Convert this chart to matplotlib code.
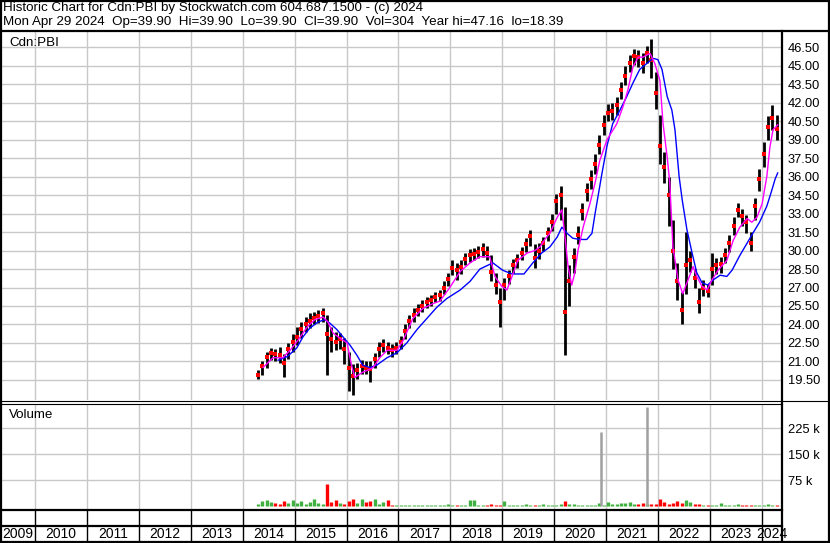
import matplotlib
matplotlib.use('Agg')
import matplotlib.pyplot as plt
from matplotlib.lines import Line2D
from matplotlib.patches import Rectangle

plt.rcParams['font.family'] = ['Liberation Sans', 'DejaVu Sans']

# ---------------- data ----------------
start_year, start_month = 2014, 4

close = [19.9, 20.6, 21.4, 21.7, 21.6, 21.5, 20.9, 22.0, 22.6,
         23.0, 23.6, 24.0, 24.3, 24.5, 24.7, 24.9, 23.2, 22.8, 22.6, 22.8, 22.0,
         20.5, 19.8, 20.3, 20.6, 20.5, 20.4, 21.2, 22.0, 22.3, 22.1, 21.9, 22.1,
         22.6, 23.5, 24.3, 24.8, 25.2, 25.5, 25.8, 26.0, 26.2, 26.4, 27.0, 27.7,
         28.6, 28.4, 28.7, 29.3, 29.6, 29.7, 29.9, 30.1, 29.8, 28.3, 27.2, 25.8,
         27.2, 27.9, 28.8, 29.2, 29.8, 30.5, 31.2, 29.4, 30.0, 30.6, 31.4, 32.3,
         34.0, 34.5, 25.0, 27.5, 29.5, 31.3, 33.2, 34.8, 35.8, 37.0, 38.6, 40.2,
         41.2, 41.3, 41.8, 43.0, 44.2, 45.2, 45.8, 45.7, 45.2, 46.0, 45.5, 42.8,
         38.5, 36.8, 34.5, 30.0, 27.5, 25.2, 28.8, 29.2, 27.8, 25.8, 27.0, 26.7,
         28.5, 28.8, 28.9, 29.6, 30.6, 32.0, 33.3, 32.8, 32.3, 30.6, 33.6, 35.8,
         37.8, 40.0, 40.8, 39.9]
high = [20.3, 21.0, 21.8, 22.1, 22.0, 22.2, 21.6, 22.5, 23.2,
        23.8, 24.2, 24.6, 24.9, 25.0, 25.2, 25.3, 24.8, 23.8, 23.4, 23.3, 22.9,
        21.8, 20.8, 20.9, 21.1, 21.0, 21.0, 21.7, 22.6, 22.8, 22.6, 22.4, 22.6,
        23.1, 24.0, 24.8, 25.3, 25.7, 26.0, 26.2, 26.4, 26.6, 26.8, 27.5, 28.2,
        29.2, 29.0, 29.2, 29.8, 30.1, 30.2, 30.4, 30.6, 30.4, 29.6, 28.2, 27.0,
        27.8, 28.4, 29.3, 29.7, 30.3, 31.0, 31.7, 30.5, 30.6, 31.1, 31.9, 33.0,
        34.6, 35.2, 33.5, 28.8, 30.2, 32.0, 33.9, 35.5, 36.5, 37.8, 39.4, 41.0,
        41.9, 42.0, 42.5, 43.7, 45.0, 45.9, 46.4, 46.3, 46.0, 46.6, 47.2, 44.5,
        41.0, 38.0, 36.0, 32.5, 29.0, 26.6, 31.5, 30.0, 28.5, 27.0, 27.6, 27.3,
        29.8, 29.4, 29.5, 30.2, 31.3, 32.7, 33.9, 33.4, 32.9, 31.5, 34.3, 36.6,
        38.8, 40.9, 41.8, 41.0]
low = [19.6, 19.9, 20.5, 21.1, 21.0, 20.9, 19.7, 21.2, 21.8,
       22.3, 22.9, 23.4, 23.7, 24.0, 24.1, 24.2, 19.9, 21.8, 21.9, 22.0, 20.8,
       18.6, 18.3, 19.6, 20.0, 20.0, 19.3, 20.5, 21.4, 21.8, 21.6, 21.4, 21.6,
       22.0, 22.8, 23.7, 24.2, 24.7, 25.0, 25.3, 25.5, 25.8, 25.9, 26.5, 27.1,
       28.0, 27.6, 28.1, 28.8, 29.1, 29.2, 29.4, 29.5, 29.2, 27.5, 26.5, 23.8,
       26.0, 27.3, 28.2, 28.6, 29.2, 29.9, 30.4, 28.6, 29.3, 30.0, 30.8, 31.6,
       33.0, 32.5, 21.5, 25.5, 28.2, 30.5, 32.5, 34.0, 35.0, 36.2, 37.8, 39.4,
       40.5, 40.6, 41.0, 42.3, 43.4, 44.5, 45.1, 44.9, 44.4, 45.2, 44.0, 41.5,
       37.0, 35.5, 32.0, 28.5, 26.0, 24.0, 26.5, 28.3, 27.0, 24.9, 26.3, 26.2,
       27.2, 28.1, 28.2, 29.0, 29.9, 31.3, 32.7, 32.0, 31.4, 30.0, 32.5, 34.8,
       36.8, 39.0, 39.8, 39.0]
volume_k = [8, 15, 18, 12, 10, 6, 14, 9, 18,
            10, 15, 8, 12, 20, 9, 7, 64, 12, 18, 10, 8,
            14, 20, 9, 22, 11, 16, 20, 6, 12, 18, 4, 3,
            3, 4, 3, 4, 3, 5, 4, 3, 4, 3, 5, 6,
            3, 4, 5, 3, 17, 17, 4, 3, 3, 6, 4, 3,
            15, 3, 4, 3, 3, 6, 3, 4, 3, 6, 5, 4,
            4, 6, 14, 8, 6, 5, 4, 3, 4, 3, 10, 5,
            12, 7, 8, 10, 9, 11, 6, 7, 10, 8, 6, 7,
            20, 12, 8, 10, 15, 9, 17, 11, 8, 6, 5, 4,
            4, 3, 9, 5, 4, 3, 8, 3, 4, 3, 4, 3,
            4, 8, 4, 3]
spike_dates = [2020.91, 2021.80]
spike_vol_k = [213, 286]

ma50_t = [2014.39, 2014.58, 2014.77, 2014.91, 2015.06, 2015.24, 2015.39, 2015.55, 2015.64, 2015.74,
          2015.87, 2016.01, 2016.10, 2016.16, 2016.30, 2016.41, 2016.51, 2016.64, 2016.78, 2016.97,
          2017.09, 2017.28, 2017.47, 2017.67, 2017.80, 2017.99, 2018.19, 2018.38, 2018.57, 2018.76,
          2018.86, 2018.99, 2019.09, 2019.19, 2019.30, 2019.48, 2019.63, 2019.73, 2019.82, 2019.92,
          2020.06, 2020.15, 2020.21, 2020.27, 2020.34, 2020.40, 2020.46, 2020.56, 2020.69, 2020.79,
          2020.88, 2021.02, 2021.21, 2021.33, 2021.42, 2021.52, 2021.62, 2021.71, 2021.85, 2021.94,
          2022.04, 2022.10, 2022.18, 2022.23, 2022.29, 2022.39, 2022.48, 2022.58, 2022.68, 2022.75,
          2022.85, 2022.95, 2023.04, 2023.16, 2023.33, 2023.45, 2023.58, 2023.72, 2023.81, 2023.91,
          2024.01, 2024.10, 2024.16, 2024.22, 2024.31]
ma50_v = [20.5, 21.3, 21.3, 21.9, 22.7, 23.8, 24.4, 24.6, 24.2, 23.3,
          22.9, 22.5, 20.6, 19.7, 20.1, 20.3, 20.5, 21.3, 21.9, 21.9,
          22.7, 24.5, 25.3, 25.7, 25.9, 27.0, 28.3, 29.0, 29.5, 29.5,
          27.9, 27.1, 26.8, 27.9, 29.2, 29.8, 30.0, 30.3, 30.9, 31.4,
          32.7, 33.3, 31.1, 28.7, 27.2, 28.2, 30.0, 31.9, 33.8, 35.5,
          37.3, 39.0, 40.3, 41.7, 43.0, 44.9, 45.7, 45.7, 46.0, 45.2,
          43.8, 40.3, 37.6, 35.5, 30.3, 27.6, 26.5, 27.6, 28.7, 27.9,
          27.1, 26.8, 27.6, 28.4, 29.2, 30.8, 31.9, 32.6, 32.3, 32.7,
          33.8, 36.0, 38.4, 39.8, 40.2]

ma200_t = [2014.68, 2014.86, 2015.04, 2015.16, 2015.29, 2015.45, 2015.58, 2015.68, 2015.81, 2015.93,
           2016.07, 2016.20, 2016.31, 2016.45, 2016.58, 2016.78, 2016.97, 2017.16, 2017.36, 2017.55,
           2017.74, 2017.93, 2018.19, 2018.38, 2018.57, 2018.82, 2019.01, 2019.19, 2019.42, 2019.59,
           2019.76, 2019.92, 2020.06, 2020.15, 2020.25, 2020.36, 2020.50, 2020.63, 2020.73, 2020.79,
           2020.92, 2021.02, 2021.13, 2021.27, 2021.40, 2021.52, 2021.65, 2021.79, 2021.91, 2022.00,
           2022.08, 2022.18, 2022.27, 2022.33, 2022.37, 2022.41, 2022.47, 2022.56, 2022.66, 2022.75,
           2022.85, 2022.96, 2023.06, 2023.20, 2023.33, 2023.43, 2023.58, 2023.72, 2023.83, 2023.96,
           2024.10, 2024.19, 2024.26, 2024.31]
ma200_v = [21.1, 21.4, 22.1, 23.0, 23.7, 24.2, 24.4, 24.1, 23.6, 23.0,
           22.3, 21.5, 20.7, 20.5, 20.7, 21.3, 21.7, 22.5, 23.6, 24.5,
           25.4, 26.1, 26.8, 27.5, 28.5, 29.0, 28.4, 28.1, 28.1, 29.0,
           29.8, 30.3, 31.1, 31.9, 31.4, 31.0, 30.9, 30.9, 31.4, 33.0,
           36.2, 38.5, 40.3, 41.4, 42.5, 43.6, 44.7, 45.2, 45.6, 45.5,
           44.7, 42.5, 41.4, 39.8, 37.9, 36.0, 34.1, 31.7, 29.8, 28.2,
           27.4, 27.2, 27.6, 28.0, 27.9, 28.4, 29.6, 30.6, 31.4, 32.3,
           33.6, 34.8, 35.8, 36.3]

price_ticks = [19.5, 21.0, 22.5, 24.0, 25.5, 27.0, 28.5, 30.0, 31.5, 33.0,
               34.5, 36.0, 37.5, 39.0, 40.5, 42.0, 43.5, 45.0, 46.5]
price_tick_labels = ['19.50', '21.00', '22.50', '24.00', '25.50', '27.00', '28.50', '30.00',
                     '31.50', '33.00', '34.50', '36.00', '37.50', '39.00', '40.50', '42.00',
                     '43.50', '45.00', '46.50']
vol_ticks = [75, 150, 225]
vol_tick_labels = ['75 k', '150 k', '225 k']
years = list(range(2009, 2025))

header1 = 'Historic Chart for Cdn:PBI by Stockwatch.com 604.687.1500 - (c) 2024'
header2 = 'Mon Apr 29 2024  Op=39.90  Hi=39.90  Lo=39.90  Cl=39.90  Vol=304  Year hi=47.16  lo=18.39'

# ---------------- layout ----------------
W, H = 830, 543
fig = plt.figure(figsize=(W / 100, H / 100), dpi=100)


def fx(px):
    return px / W


def fy(py):
    return 1 - py / H


X0, X1 = 2009.339, 2024.393
t = [start_year + (start_month - 1 + i + 0.5) / 12 for i in range(len(close))]
grid_c = '#c8c8c8'
FS = 9.3
FS_HEAD = 9.6
FS_YEAR = 10

# price panel
ax = fig.add_axes([fx(1), fy(400), fx(781), (400 - 32) / H])
ax.set_xlim(X0, X1)
ax.set_ylim(17.87, 47.74)
for s in ax.spines.values():
    s.set_visible(False)
ax.set_xticks(years[1:])
ax.set_yticks(price_ticks)
ax.set_yticklabels(price_tick_labels)
ax.grid(True, color=grid_c, lw=1)
ax.set_axisbelow(True)
ax.tick_params(axis='x', length=0, labelbottom=False)
ax.tick_params(axis='y', length=0, labelleft=False, labelright=True, pad=4.0, labelsize=FS)
ax.vlines(t, low, high, color='black', lw=2.0, zorder=2)
ax.scatter(t, close, marker='s', s=10, color='#ff0000', lw=0, zorder=3)
ax.plot(ma200_t, ma200_v, color='#0000ff', lw=1.0, zorder=4)
ax.plot(ma50_t, ma50_v, color='#ff00ff', lw=1.0, zorder=4)

# volume panel
ax2 = fig.add_axes([fx(1), fy(510), fx(781), (510 - 404) / H])
ax2.set_xlim(X0, X1)
ax2.set_ylim(-10.7, 295)
for s in ax2.spines.values():
    s.set_visible(False)
ax2.set_xticks(years[1:])
ax2.set_yticks(vol_ticks)
ax2.set_yticklabels(vol_tick_labels)
ax2.grid(True, color=grid_c, lw=1)
ax2.set_axisbelow(True)
ax2.tick_params(axis='x', length=0, labelbottom=False)
ax2.tick_params(axis='y', length=0, labelleft=False, labelright=True, pad=4.0, labelsize=FS)
vcols = []
for i in range(len(close)):
    if i == 0 or close[i] >= close[i - 1]:
        vcols.append('#40b040')
    else:
        vcols.append('#ff0000')
ax2.vlines(t, 0, volume_k, colors=vcols, lw=2.4, zorder=2)
ax2.vlines(spike_dates, 0, spike_vol_k, colors='#a0a0a0', lw=1.8, zorder=2)

# year rows
ax3 = fig.add_axes([fx(1), fy(541), fx(781), (541 - 510) / H])
ax3.set_xlim(X0, X1)
ax3.set_ylim(541, 510)
ax3.axis('off')
ax3.vlines(years[1:], 510, 541, color='black', lw=1.0)
for y in years:
    a = max(y, X0)
    b = min(y + 1, X1)
    ax3.text((a + b) / 2, 534.5, str(y), ha='center', va='center', fontsize=FS_YEAR, color='black')

# header & labels
fig.text(fx(3), fy(10.5), header1, fontsize=FS_HEAD, va='baseline', ha='left')
fig.text(fx(3), fy(25.5), header2, fontsize=FS_HEAD, va='baseline', ha='left')
fig.text(fx(9), fy(45.5), 'Cdn:PBI', fontsize=FS_HEAD, va='baseline', ha='left')
fig.text(fx(9), fy(418.5), 'Volume', fontsize=FS_HEAD, va='baseline', ha='left')


def hline(y, x0, x1, lw):
    fig.add_artist(Line2D([fx(x0), fx(x1)], [fy(y), fy(y)], color='black', lw=lw))


def vline(x, y0, y1, lw):
    fig.add_artist(Line2D([fx(x), fx(x)], [fy(y0), fy(y1)], color='black', lw=lw))


hline(31, 0, 830, 1.6)
hline(400.5, 0, 830, 0.8)
hline(404, 0, 782, 0.8)
hline(510, 0, 782, 1.6)
hline(526, 0, 782, 1.6)
vline(782, 31, 543, 1.6)
fig.add_artist(Rectangle((fx(0.8), fy(542.2)), fx(828.2), 541.4 / H, transform=fig.transFigure,
                         fill=False, ec='black', lw=1.6))

fig.savefig('out.png', dpi=100)
